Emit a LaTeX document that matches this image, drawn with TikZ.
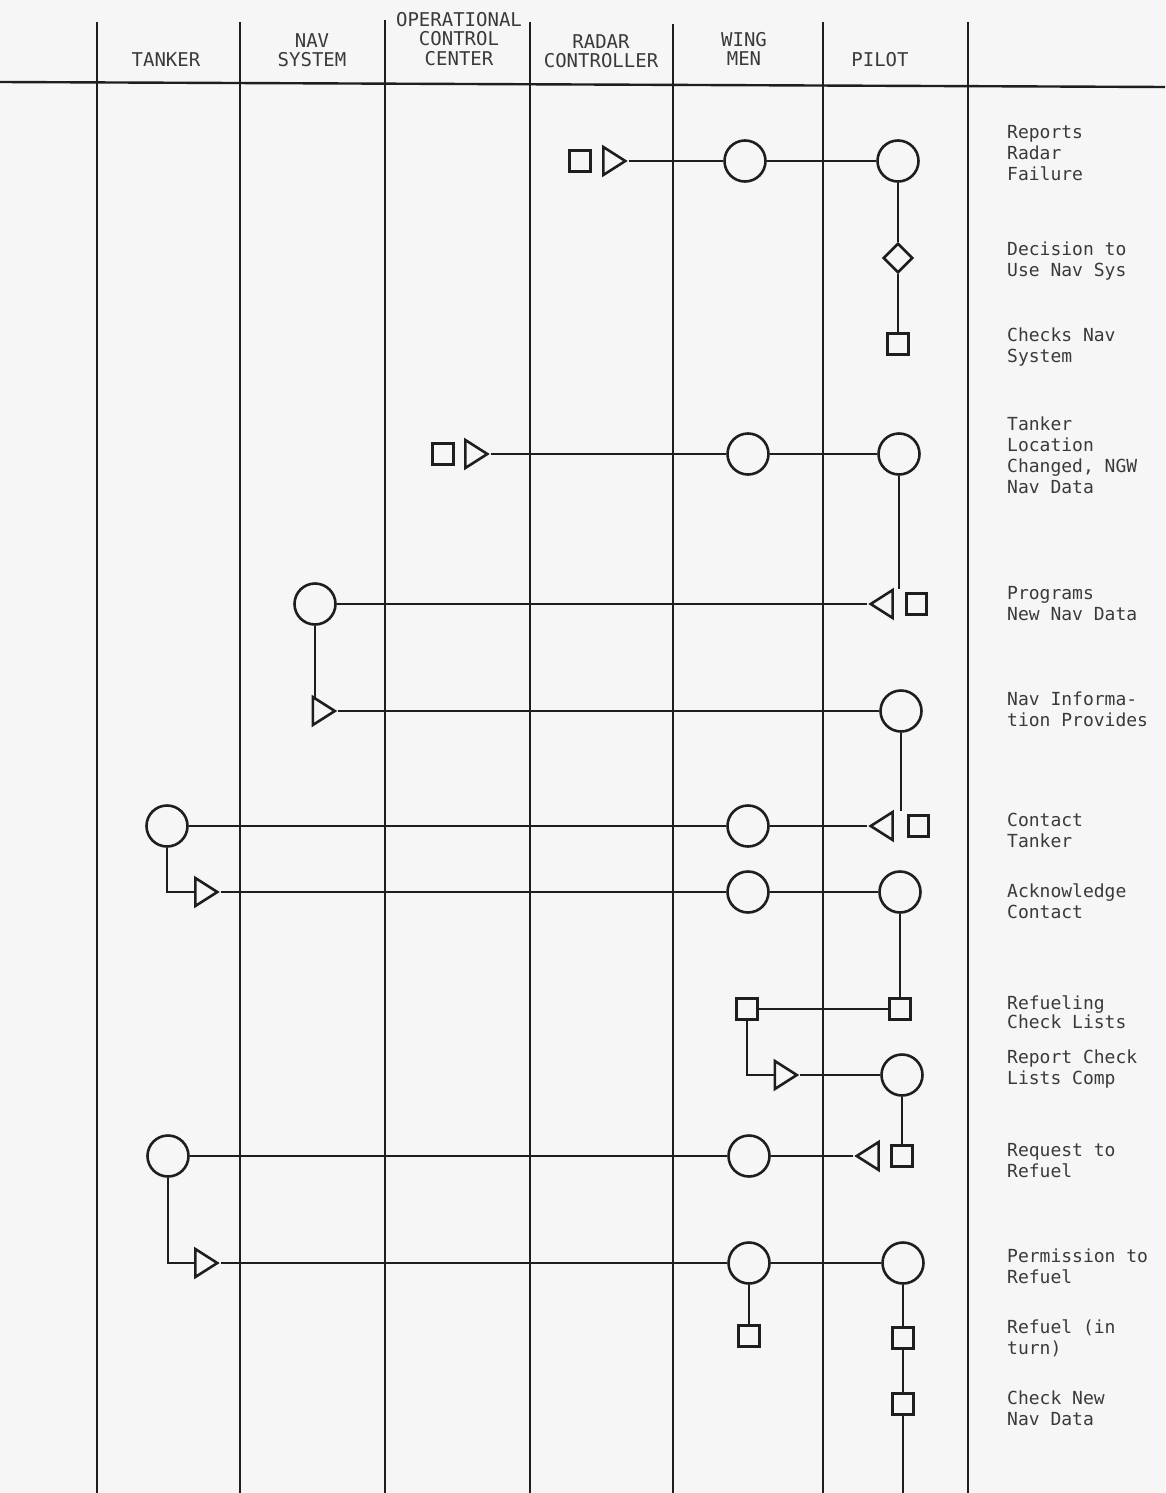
\documentclass[tikz,border=0pt]{standalone}
\usepackage{fontspec}
\usetikzlibrary{shapes.geometric}
\newfontfamily\monofam{DejaVu Sans Mono}
\definecolor{ink}{HTML}{1E1E1E}
\definecolor{paper}{HTML}{F6F6F6}
\definecolor{txt}{HTML}{3A3A3A}
\begin{document}
\begin{tikzpicture}[x=1pt,y=-1pt,
 lane/.style={draw=ink,line width=2.4pt},
 conn/.style={draw=ink,line width=2.6pt},
 act/.style={circle,draw=ink,line width=2.6pt,fill=paper,minimum size=41pt,inner sep=0pt},
 opbox/.style={rectangle,draw=ink,line width=2.6pt,fill=paper,minimum size=20.5pt,inner sep=0pt},
 dec/.style={diamond,draw=ink,line width=2.6pt,fill=paper,minimum width=29.5pt,minimum height=29.5pt,inner sep=0pt},
 tri/.style={isosceles triangle,isosceles triangle stretches,draw=ink,line width=2.6pt,fill=paper,minimum width=28pt,minimum height=22pt,inner sep=0pt},
 trir/.style={tri,shape border rotate=0},
 tril/.style={tri,shape border rotate=180},
 hdr/.style={font=\monofam\fontsize{19}{19.5}\selectfont,text=txt,align=center,inner sep=0pt},
 lbl/.style={font=\monofam\fontsize{18}{21}\selectfont,text=txt,align=left,anchor=west,inner sep=0pt},
]
\fill[paper] (0,0) rectangle (1165,1493);
\useasboundingbox (0,0) rectangle (1165,1493);

% lanes
\foreach \lx/\ly in {97/22,240/22,385/20,530/22,673/24,823/22,968/22}
  \draw[lane] (\lx,\ly) -- (\lx,1493);
\coordinate (hl) at (0,82);
\coordinate (hr) at (1165,87);
\draw[lane] (hl) -- (hr);

% headers
\node[hdr] (hTanker) at (166,60) {TANKER};
\node[hdr] (hNav) at (312,50) {NAV\\SYSTEM};
\node[hdr] (hOcc) at (459,39) {OPERATIONAL\\CONTROL\\CENTER};
\node[hdr] (hRadar) at (601,51) {RADAR\\CONTROLLER};
\node[hdr] (hWing) at (744,49) {WING\\MEN};
\node[hdr] (hPilot) at (880,60) {PILOT};

% row 1: reports radar failure
\node[opbox] (rc1) at (580,161) {};
\node[trir] (rt1) at (611,161) {};
\node[act] (w1) at (745,161) {};
\node[act] (p1) at (898,161) {};
\node[dec] (pd) at (898,258) {};
\node[opbox] (p2) at (898,344) {};
\draw[conn] (rt1.apex) -- (w1.west);
\draw[conn] (w1.east) -- (p1.west);
\draw[conn] (p1.south) -- (pd.north);
\draw[conn] (pd.south) -- (p2.north);

% row 4: tanker location changed
\node[opbox] (oc1) at (443,454) {};
\node[trir] (ot1) at (473,454) {};
\node[act] (w2) at (748,454) {};
\node[act] (p3) at (899,454) {};
\draw[conn] (ot1.apex) -- (w2.west);
\draw[conn] (w2.east) -- (p3.west);

% row 5: programs new nav data
\node[act] (n1) at (315,604) {};
\node[tril] (pt5) at (885,604) {};
\node[opbox] (ps5) at (916.5,604) {};
\draw[conn] (n1.east) -- (pt5.apex);
\draw[conn,shorten >=4pt] (p3.south) -- (p3.south |- pt5.north);

% row 6: nav information provides
\node[trir] (nt6) at (320.5,711) {};
\node[act] (p6) at (901,711) {};
\draw[conn] (n1.south) -- (n1.south |- nt6.north);
\draw[conn] (nt6.apex) -- (p6.west);

% row 7: contact tanker
\node[act] (t1) at (167,826) {};
\node[act] (w7) at (748,826) {};
\node[tril] (pt7) at (885,826) {};
\node[opbox] (ps7) at (918.5,826) {};
\draw[conn] (t1.east) -- (w7.west);
\draw[conn] (w7.east) -- (pt7.apex);
\draw[conn,shorten >=4pt] (p6.south) -- (p6.south |- pt7.north);

% row 8: acknowledge contact
\node[trir] (tt8) at (203,892) {};
\node[act] (w8) at (748,892) {};
\node[act] (p8) at (900,892) {};
\draw[conn] (t1.south) |- (tt8.west);
\draw[conn] (tt8.apex) -- (w8.west);
\draw[conn] (w8.east) -- (p8.west);

% row 9: refueling check lists
\node[opbox] (ws9) at (747,1009) {};
\node[opbox] (ps9) at (900,1009) {};
\draw[conn] (p8.south) -- (ps9.north);
\draw[conn] (ws9.east) -- (ps9.west);

% row 10: report check lists comp
\node[trir] (wt10) at (782.5,1075) {};
\node[act] (p10) at (902,1075) {};
\draw[conn] (ws9.south) |- (wt10.west);
\draw[conn] (wt10.apex) -- (p10.west);

% row 11: request to refuel
\node[act] (t11) at (168,1156) {};
\node[act] (w11) at (749,1156) {};
\node[tril] (pt11) at (871,1156) {};
\node[opbox] (ps11) at (902,1156) {};
\draw[conn] (t11.east) -- (w11.west);
\draw[conn] (w11.east) -- (pt11.apex);
\draw[conn] (p10.south) -- (ps11.north);

% row 12: permission to refuel
\node[trir] (tt12) at (203,1263) {};
\node[act] (w12) at (749,1263) {};
\node[act] (p12) at (903,1263) {};
\draw[conn] (t11.south) |- (tt12.west);
\draw[conn] (tt12.apex) -- (w12.west);
\draw[conn] (w12.east) -- (p12.west);

% rows 13-14
\node[opbox] (ws13) at (749,1336) {};
\node[opbox] (ps13) at (903,1338) {};
\node[opbox] (ps14) at (903,1404) {};
\coordinate (pend) at (903,1493);
\draw[conn] (w12.south) -- (ws13.north);
\draw[conn] (p12.south) -- (ps13.north);
\draw[conn] (ps13.south) -- (ps14.north);
\draw[conn] (ps14.south) -- (pend);

% labels
\node[lbl] (l1) at (1007,153) {Reports\\Radar\\Failure};
\node[lbl] (l2) at (1007,261) {Decision to\\Use Nav Sys};
\node[lbl] (l3) at (1007,347) {Checks Nav\\System};
\node[lbl] (l4) at (1007,455) {Tanker\\Location\\Changed, NGW\\Nav Data};
\node[lbl] (l5) at (1007,604) {Programs\\New Nav Data};
\node[lbl] (l6) at (1007,709) {Nav Informa-\\tion Provides};
\node[lbl] (l7) at (1007,830) {Contact\\Tanker};
\node[lbl] (l8) at (1007,901) {Acknowledge\\Contact};
\node[lbl,font=\monofam\fontsize{18}{17}\selectfont] (l9) at (1007,1012) {Refueling\\Check Lists};
\node[lbl] (l10) at (1007,1069) {Report Check\\Lists Comp};
\node[lbl] (l11) at (1007,1161) {Request to\\Refuel};
\node[lbl] (l12) at (1007,1266) {Permission to\\Refuel};
\node[lbl] (l13) at (1007,1338) {Refuel (in\\turn)};
\node[lbl] (l14) at (1007,1408) {Check New\\Nav Data};
\end{tikzpicture}
\end{document}
